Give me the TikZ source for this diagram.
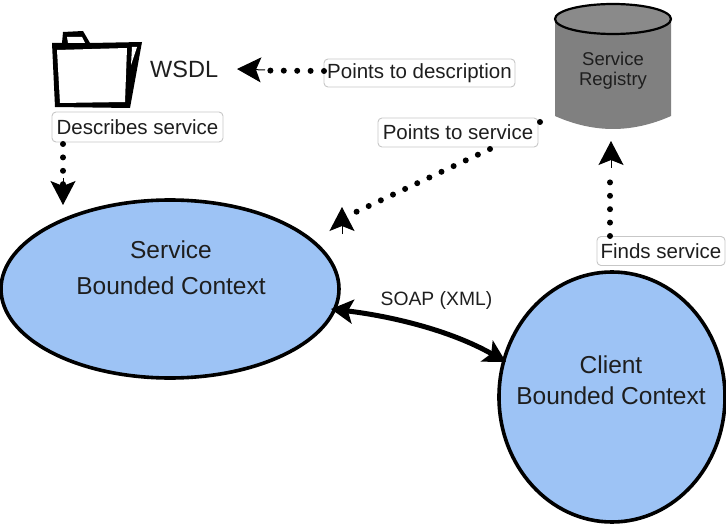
\documentclass[tikz,border=0pt]{standalone}
\usepackage{fontspec}
\setmainfont{Liberation Sans}
\usetikzlibrary{shapes.geometric,arrows.meta}
\definecolor{ctx}{HTML}{9DC3F5}
\definecolor{ink}{HTML}{1E1E1E}
\tikzset{
  ctxnode/.style={ellipse,draw=black,line width=3.6pt,fill=ctx,inner sep=0pt},
  lbl/.style={draw=black!22,line width=0.9pt,fill=white,rounded corners=4pt,inner sep=0pt,text=ink,font=\fontsize{20.5}{24}\selectfont},
  big/.style={text=ink,inner sep=0pt},
  dotline/.style={line width=6pt,line cap=round,dash pattern=on 0pt off 13.4pt},
  blobtip/.tip={Stealth[length=24pt,width=25pt,inset=5pt]},
  soaptip/.tip={Stealth[length=22pt,width=24pt,inset=5pt]},
  solidhead/.style={line width=1pt,draw=black,-{blobtip}},
}
\begin{document}
\begin{tikzpicture}[x=1pt,y=-1pt]
\useasboundingbox (0,0) rectangle (726,524);
% folder
\fill[black,line join=round] (52,43) -- (62,43) -- (63,32) -- (83,31) -- (90,43) -- (142,42) -- (130,108) -- (55,107) -- cycle;
\fill[white] (57,50) -- (127,48) -- (125,102) -- (60,103) -- cycle;
\fill[white] (132,47) -- (137,47) -- (131,65) -- cycle;
\fill[white] (67,37) -- (82,37) -- (85,43) -- (68,43) -- cycle;
\node[big,anchor=west,font=\fontsize{23.5}{28}\selectfont] (wsdl) at (150,69) {WSDL};
% registry
\fill[black!50] (555,20) -- (555,116) .. controls (575,125) and (595,129) .. (613,129) .. controls (631,129) and (651,125) .. (671,116) -- (671,20) -- cycle;
\node[ellipse,draw=black,line width=2.2pt,fill=black!46,minimum width=116pt,minimum height=30pt,inner sep=0pt] (registry) at (613,19) {};
\coordinate (registrylow) at (611,141);
\node[text=ink,font=\fontsize{18.5}{20}\selectfont,inner sep=0pt,align=center] (registrytext) at (613,71) {Service\\Registry};
% contexts
\node[ctxnode,minimum width=338pt,minimum height=178pt] (service) at (170,289) {};
\node[ctxnode,minimum width=226pt,minimum height=250pt] (client) at (612,397) {};
\node[big,align=center,font=\fontsize{24.5}{36}\selectfont] (servicetext) at (171,268) {Service\\Bounded Context};
\node[big,align=center,font=\fontsize{24.5}{31}\selectfont] (clienttext) at (611,380) {Client\\Bounded Context};
% labels
\node[lbl,minimum width=191pt,minimum height=28pt] (ptd) at (419.5,73) {Points to description};
\node[lbl,minimum width=171pt,minimum height=30pt] (desc) at (137.5,127) {Describes service};
\node[lbl,minimum width=160pt,minimum height=29pt] (pts) at (458,132.5) {Points to service};
\node[lbl,minimum width=128pt,minimum height=29pt] (finds) at (661,251) {Finds service};
\node[text=ink,font=\fontsize{19.3}{22}\selectfont,inner sep=0pt] (soap) at (436.5,301) {SOAP (XML)};
% connectors
\coordinate (wsdlin) at (237,69);
\coordinate (servicetop) at (63,205);
\coordinate (servicetip) at (342,207);
\coordinate (ptdout) at (324,71);
\coordinate (descout) at (63,144);
\coordinate (ptsout) at (490,149);
\coordinate (findsout) at (610,236);
\draw[dotline] (ptdout) -- (262,70.5);
\draw[solidhead] (265,70) -- (wsdlin);
\draw[dotline] (descout) -- (63,185);
\draw[solidhead] (63,178) -- (servicetop);
\draw[dotline] (ptsout) -- (356,212);
\draw[solidhead] (342,234) -- (servicetip);
\fill (540,122) circle (3pt);
\draw[dotline] (findsout) -- (610,170);
\draw[solidhead] (611,168) -- (registrylow);
\draw[line width=5pt,{soaptip}-{soaptip}] (331,309) .. controls (390,316) and (450,330) .. (506,362);
\end{tikzpicture}
\end{document}
